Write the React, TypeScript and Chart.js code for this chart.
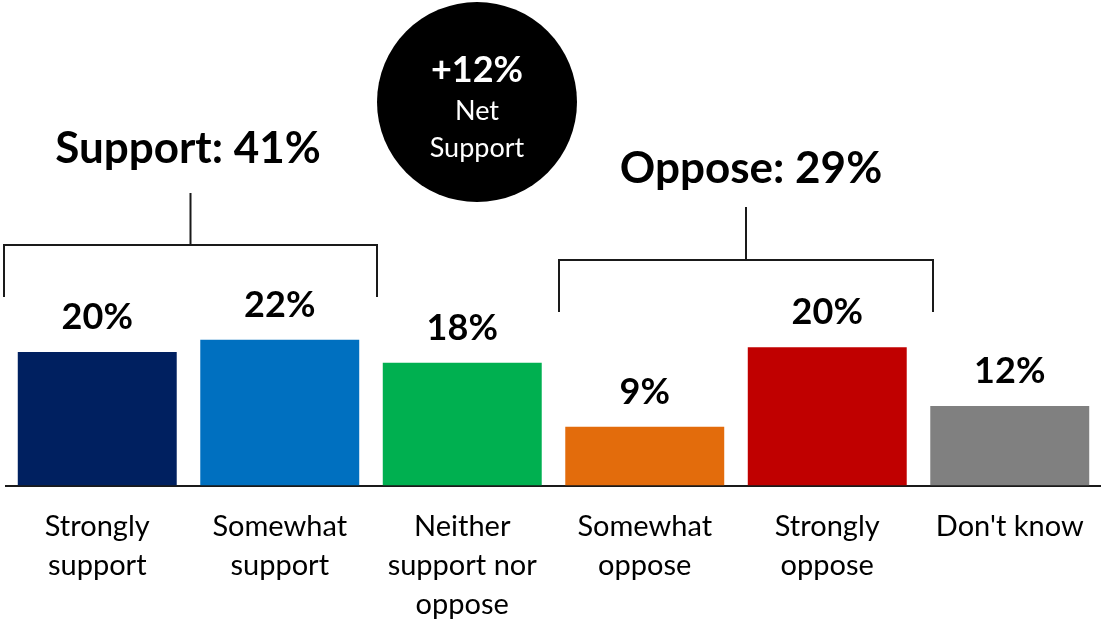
import React, { useEffect, useRef } from "react";
import { Chart, registerables } from "chart.js";

Chart.register(...registerables);

const categories: string[][] = [
  ["Strongly", "support"],
  ["Somewhat", "support"],
  ["Neither", "support nor", "oppose"],
  ["Somewhat", "oppose"],
  ["Strongly", "oppose"],
  ["Don't know"],
];
const values: number[] = [19.8, 21.6, 18.2, 8.7, 20.5, 11.8];
const valueLabels: string[] = ["20%", "22%", "18%", "9%", "20%", "12%"];
const barColors: string[] = ["#002060", "#0070C0", "#00B050", "#E36C0C", "#C00000", "#808080"];
const supportTitle = "Support: 41%";
const opposeTitle = "Oppose: 29%";
const netValue = "+12%";
const netLines: string[] = ["Net", "Support"];

const FONT = "Lato, 'Open Sans', sans-serif";

const overlayPlugin = {
  id: "overlay",
  afterDatasetsDraw(chart: any) {
    const ctx = chart.ctx as CanvasRenderingContext2D;
    const meta = chart.getDatasetMeta(0);
    ctx.save();
    // value labels
    ctx.fillStyle = "#000";
    ctx.font = `bold 36px ${FONT}`;
    ctx.textAlign = "center";
    ctx.textBaseline = "alphabetic";
    meta.data.forEach((bar: any, i: number) => {
      ctx.fillText(valueLabels[i], bar.x, bar.y - 23);
    });

    // brackets
    ctx.strokeStyle = "#1a1a1a";
    ctx.lineWidth = 2;
    const bracket = (x1: number, x2: number, y: number, yEnd: number, yStem: number) => {
      const xm = (x1 + x2) / 2;
      ctx.beginPath();
      ctx.moveTo(x1, yEnd);
      ctx.lineTo(x1, y);
      ctx.lineTo(x2, y);
      ctx.lineTo(x2, yEnd);
      ctx.moveTo(xm, y);
      ctx.lineTo(xm, yStem);
      ctx.stroke();
    };
    bracket(4, 377, 245, 297, 193);
    bracket(559, 933, 260, 312, 207);

    // titles
    ctx.fillStyle = "#000";
    ctx.font = `bold 44px ${FONT}`;
    ctx.fillText(supportTitle, 188, 163);
    ctx.fillText(opposeTitle, 751, 183);

    // net circle
    ctx.beginPath();
    ctx.arc(477, 102, 100, 0, Math.PI * 2);
    ctx.fillStyle = "#000";
    ctx.fill();
    ctx.fillStyle = "#fff";
    ctx.font = `bold 36px ${FONT}`;
    ctx.fillText(netValue, 477, 82);
    ctx.font = `27px ${FONT}`;
    ctx.fillText(netLines[0], 477, 120);
    ctx.fillText(netLines[1], 477, 157);
    ctx.restore();
  },
};

export default function App() {
  const ref = useRef<HTMLCanvasElement | null>(null);
  useEffect(() => {
    if (!ref.current) return;
    const chart = new Chart(ref.current, {
      type: "bar",
      data: {
        labels: categories,
        datasets: [
          {
            data: values,
            backgroundColor: barColors,
            borderWidth: 0,
            barPercentage: 0.871,
            categoryPercentage: 1,
          },
        ],
      },
      options: {
        animation: false,
        responsive: false,
        maintainAspectRatio: false,
        layout: { padding: { left: 6, right: 0, top: 0, bottom: 0 } },
        plugins: { legend: { display: false }, tooltip: { enabled: false } },
        scales: {
          x: {
            grid: { display: false, drawTicks: false },
            border: { display: true, color: "#1a1a1a", width: 2 },
            ticks: {
              color: "#000",
              font: { family: FONT, size: 29, lineHeight: 1.34 },
              padding: 22,
              maxRotation: 0,
              autoSkip: false,
            },
            afterFit: (scale: any) => {
              scale.height = 134.5;
              scale.paddingLeft = 0;
              scale.paddingRight = 0;
            },
          },
          y: { display: false, min: 0, max: 72 },
        },
      },
      plugins: [overlayPlugin],
    });
    return () => chart.destroy();
  }, []);
  return (
    <div style={{ position: "absolute", left: 0, top: 0, width: 1101, height: 620, background: "#fff" }}>
      <canvas ref={ref} width={1101} height={620} style={{ width: 1101, height: 620, display: "block" }} />
    </div>
  );
}
